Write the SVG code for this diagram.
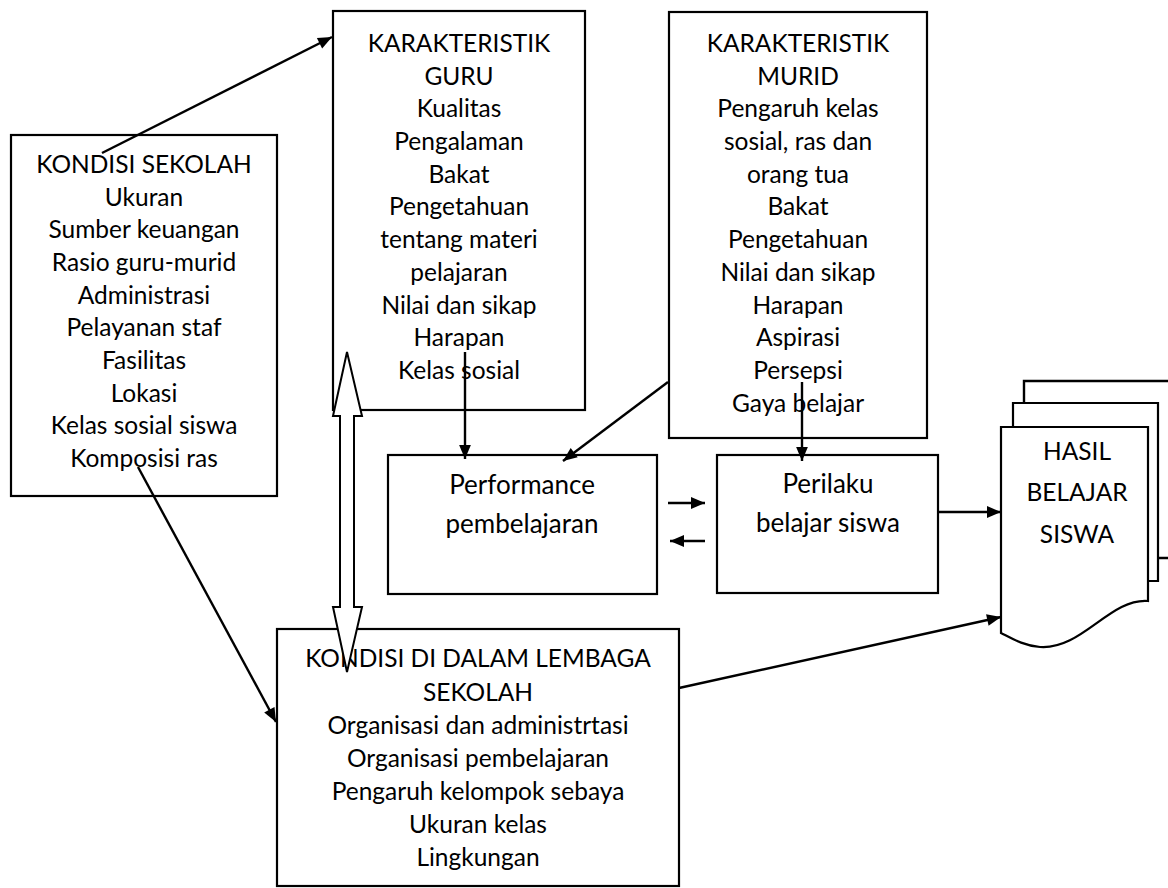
<svg xmlns="http://www.w3.org/2000/svg" width="1168" height="888" viewBox="0 0 1168 888">
<style>
.box{fill:#fff;stroke:#000;stroke-width:2.2}
.ln{fill:none;stroke:#000;stroke-width:2.4}
text{font-family:Lato,"Liberation Sans",sans-serif;font-size:24.5px;fill:#000;text-anchor:middle}
.big{font-size:26px}
.hs{font-size:24.5px}
</style>
<defs>
<marker id="ah" viewBox="0 0 10 10" refX="10" refY="5" markerWidth="14" markerHeight="14" markerUnits="userSpaceOnUse" orient="auto" overflow="visible">
<path d="M0,0.8 L10,5 L0,9.2 Z" fill="#000"/>
</marker>
</defs>
<rect width="1168" height="888" fill="#fff"/>

<g id="hasil">
<path class="ln" d="M1024,403 V381 H1172 M1158,558 H1172"/>
<path class="box" d="M1013,427 V403 H1158 V581 H1148"/>
<path class="box" d="M1001,427 H1148 V601 C1110,598 1082,650 1040,647 C1024,646 1011,638 1001,633 Z"/>
<text class="hs" x="1077" y="460">HASIL</text>
<text class="hs" x="1077" y="501">BELAJAR</text>
<text class="hs" x="1077" y="543">SISWA</text>
</g>

<g id="kondisi-sekolah">
<rect class="box" x="11" y="135" width="266" height="361"/>
<text x="144" y="173">KONDISI SEKOLAH</text>
<text x="144" y="206">Ukuran</text>
<text x="144" y="238">Sumber keuangan</text>
<text x="144" y="271">Rasio guru-murid</text>
<text x="144" y="304">Administrasi</text>
<text x="144" y="336">Pelayanan staf</text>
<text x="144" y="369">Fasilitas</text>
<text x="144" y="402">Lokasi</text>
<text x="144" y="434">Kelas sosial siswa</text>
<text x="144" y="467">Komposisi ras</text>
</g>

<g id="karakteristik-guru">
<rect class="box" x="333" y="11" width="252" height="399"/>
<text x="459" y="52">KARAKTERISTIK</text>
<text x="459" y="85">GURU</text>
<text x="459" y="117">Kualitas</text>
<text x="459" y="150">Pengalaman</text>
<text x="459" y="183">Bakat</text>
<text x="459" y="215">Pengetahuan</text>
<text x="459" y="248">tentang materi</text>
<text x="459" y="281">pelajaran</text>
<text x="459" y="314">Nilai dan sikap</text>
<text x="459" y="346">Harapan</text>
<text x="459" y="379">Kelas sosial</text>
</g>

<g id="karakteristik-murid">
<rect class="box" x="669" y="12" width="258" height="426"/>
<text x="798" y="52">KARAKTERISTIK</text>
<text x="798" y="85">MURID</text>
<text x="798" y="117">Pengaruh kelas</text>
<text x="798" y="150">sosial, ras dan</text>
<text x="798" y="183">orang tua</text>
<text x="798" y="215">Bakat</text>
<text x="798" y="248">Pengetahuan</text>
<text x="798" y="281">Nilai dan sikap</text>
<text x="798" y="314">Harapan</text>
<text x="798" y="346">Aspirasi</text>
<text x="798" y="379">Persepsi</text>
<text x="798" y="412">Gaya belajar</text>
</g>

<g id="performance">
<rect class="box" x="388" y="455" width="269" height="139"/>
<text class="big" x="522" y="494">Performance</text>
<text class="big" x="522" y="533">pembelajaran</text>
</g>

<g id="perilaku">
<rect class="box" x="717" y="455" width="221" height="138"/>
<text class="big" x="828" y="493">Perilaku</text>
<text class="big" x="828" y="532">belajar siswa</text>
</g>

<g id="kondisi-lembaga">
<rect class="box" x="277" y="629" width="402" height="257"/>
<text x="478" y="667">KONDISI DI DALAM LEMBAGA</text>
<text x="478" y="701">SEKOLAH</text>
<text x="478" y="734">Organisasi dan administrtasi</text>
<text x="478" y="767">Organisasi pembelajaran</text>
<text x="478" y="800">Pengaruh kelompok sebaya</text>
<text x="478" y="833">Ukuran kelas</text>
<text x="478" y="866">Lingkungan</text>
</g>

<g id="connectors">
<line class="ln" x1="102" y1="153" x2="332" y2="37" marker-end="url(#ah)"/>
<line class="ln" x1="465" y1="352" x2="465" y2="459" marker-end="url(#ah)"/>
<line class="ln" x1="668" y1="382" x2="563" y2="461" marker-end="url(#ah)"/>
<line class="ln" x1="802" y1="382" x2="802" y2="461" marker-end="url(#ah)"/>
<line class="ln" x1="668" y1="503" x2="705" y2="503" marker-end="url(#ah)"/>
<line class="ln" x1="705" y1="541" x2="670" y2="541" marker-end="url(#ah)"/>
<line class="ln" x1="938" y1="512" x2="1001" y2="512" marker-end="url(#ah)"/>
<line class="ln" x1="138" y1="467" x2="276" y2="722" marker-end="url(#ah)"/>
<line class="ln" x1="679" y1="688" x2="1001" y2="617" marker-end="url(#ah)"/>
<path fill="#fff" stroke="#000" stroke-width="2" stroke-linejoin="miter" d="M347,352 L362,416 H354 V607 H362 L347,672 L333,607 H340 V416 H333 Z"/>
</g>
</svg>
